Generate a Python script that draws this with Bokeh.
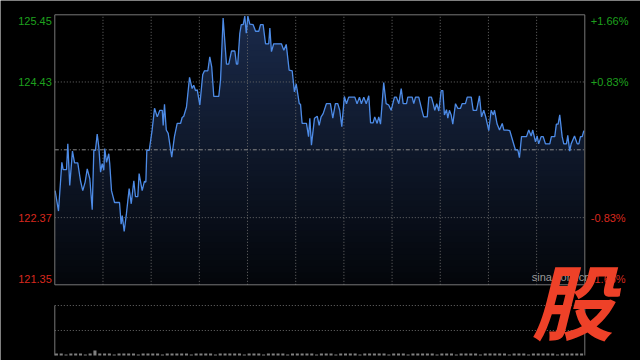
import numpy as np
from bokeh.plotting import figure
from bokeh.models import Range1d, Label
from bokeh.embed import file_html
from bokeh.resources import INLINE

# ---------------- data ----------------
prev_close = 123.40
price_top, price_bottom = 125.45, 121.35
left_ticks = [125.45, 124.43, 122.37, 121.35]
left_labels = ["125.45", "124.43", "122.37", "121.35"]
right_labels = ["+1.66%", "+0.83%", "-0.83%", "-1.66%"]
grid_minutes = [30, 60, 90, 120, 150, 180, 210, 240, 270, 300]
session_minutes = 330

minutes = [
    0.2, 2.3, 4.4, 5.2, 7.3, 8.1, 9.3, 11.0, 12.3, 14.3,
    16.0, 17.4, 18.9, 20.2, 21.8, 23.3, 24.3, 25.3, 26.4, 27.4,
    28.5, 29.5, 30.5, 31.1, 32.2, 33.6, 34.2, 35.3, 37.2, 40.3,
    41.3, 42.0, 43.2, 44.6, 46.3, 47.6, 49.2, 50.2, 51.7, 52.5,
    54.4, 55.8, 56.7, 57.3, 58.8, 60.6, 62.1, 63.8, 65.4, 66.9,
    67.5, 68.3, 69.4, 70.6, 72.8, 74.5, 76.2, 78.3, 79.3, 80.3,
    82.0, 83.9, 85.5, 86.5, 87.6, 88.7, 90.3, 92.1, 93.2, 95.3,
    96.5, 97.7, 99.0, 102.1, 103.2, 104.8, 106.9, 108.3, 110.0, 112.1,
    113.1, 113.9, 115.2, 116.1, 117.3, 118.3, 119.2, 120.2, 121.4, 123.5,
    125.0, 127.0, 128.1, 129.7, 131.2, 133.2, 133.9, 134.9, 136.3, 141.1,
    142.6, 144.1, 145.9, 147.8, 149.2, 150.3, 150.9, 152.2, 153.0, 154.0,
    156.7, 158.0, 158.8, 159.8, 161.7, 163.4, 164.6, 165.8, 167.1, 169.1,
    171.6, 173.1, 174.7, 176.2, 177.4, 178.7, 180.3, 181.6, 183.0, 186.8,
    188.2, 189.7, 190.9, 192.4, 193.9, 195.5, 196.6, 198.2, 199.2, 200.7,
    201.7, 202.8, 204.8, 206.3, 207.9, 209.4, 211.5, 212.7, 214.2, 215.7,
    216.9, 219.0, 219.8, 222.5, 223.5, 224.6, 226.6, 228.8, 229.7, 231.9,
    232.9, 234.5, 235.6, 236.6, 237.8, 239.1, 240.6, 241.6, 242.6, 243.9,
    244.7, 245.7, 246.8, 247.8, 249.5, 250.9, 252.6, 253.6, 255.7, 256.8,
    259.3, 260.5, 262.6, 264.4, 265.7, 267.1, 268.3, 270.2, 271.7, 273.0,
    273.8, 275.4, 276.9, 278.6, 279.6, 281.7, 283.3, 285.8, 286.8, 288.3,
    289.3, 290.6, 293.7, 295.1, 296.6, 297.6, 299.3, 300.3, 301.3, 302.8,
    304.1, 305.5, 308.2, 309.2, 311.3, 312.3, 313.4, 314.4, 315.9, 316.9,
    318.6, 319.4, 320.6, 321.5, 323.6, 325.3, 326.3, 327.3, 328.4, 329.4,
]

prices = [
    122.78, 122.47, 123.21, 123.10, 123.10, 123.49, 122.86, 123.38, 123.20, 123.20,
    122.93, 122.78, 122.91, 123.11, 122.96, 122.49, 123.39, 123.39, 123.64, 123.44,
    123.06, 123.19, 123.09, 123.42, 123.21, 123.34, 123.19, 122.78, 122.60, 122.60,
    122.27, 122.40, 122.16, 122.43, 122.81, 122.58, 122.93, 122.69, 122.69, 123.04,
    122.78, 122.92, 122.91, 123.39, 123.39, 123.70, 124.03, 123.90, 124.00, 124.00,
    123.77, 124.09, 123.70, 123.65, 123.29, 123.60, 123.80, 123.80, 123.89, 123.91,
    124.05, 124.50, 124.33, 124.38, 124.30, 124.31, 124.08, 124.54, 124.60, 124.60,
    124.81, 124.66, 124.21, 124.21, 124.46, 125.40, 124.70, 124.70, 124.90, 124.90,
    124.70, 124.70, 125.17, 125.30, 125.30, 125.43, 125.17, 125.43, 125.31, 125.30,
    125.20, 125.20, 125.30, 125.30, 125.01, 125.01, 125.25, 124.89, 125.01, 125.01,
    124.91, 125.00, 124.61, 124.60, 124.28, 124.40, 124.31, 124.10, 124.09, 123.80,
    123.80, 123.60, 123.88, 123.47, 123.88, 123.91, 123.77, 123.90, 123.95, 124.10,
    124.10, 123.88, 124.10, 124.10, 124.00, 123.75, 124.21, 124.10, 124.20, 124.20,
    124.10, 124.20, 124.10, 124.20, 124.10, 124.22, 123.81, 123.81, 123.90, 123.80,
    123.90, 123.79, 124.42, 124.10, 124.08, 124.00, 124.20, 124.20, 124.10, 124.33,
    124.10, 124.10, 124.20, 124.20, 124.10, 124.20, 124.20, 123.98, 123.90, 123.90,
    124.20, 124.20, 124.10, 124.00, 124.10, 123.99, 124.30, 124.30, 123.93, 124.01,
    123.88, 124.00, 123.93, 123.79, 124.10, 124.03, 124.03, 124.10, 124.10, 124.20,
    124.20, 124.00, 124.00, 124.22, 123.90, 124.00, 123.90, 123.69, 124.00, 123.93,
    124.00, 123.79, 123.70, 123.80, 123.70, 123.70, 123.69, 123.48, 123.40, 123.40,
    123.28, 123.60, 123.60, 123.70, 123.61, 123.70, 123.52, 123.61, 123.49, 123.60,
    123.60, 123.49, 123.49, 123.60, 123.60, 123.79, 123.79, 123.93, 123.60, 123.49,
    123.49, 123.62, 123.38, 123.49, 123.61, 123.49, 123.49, 123.60, 123.60, 123.69,
]

vol_minutes = list(range(1, 330, 3))
volumes = [
    2, 2, 1, 2, 2, 2, 1, 2, 5, 2, 2, 2, 1, 2, 2, 2, 2, 1, 2, 2,
    2, 2, 1, 2, 2, 2, 2, 2, 1, 2, 2, 2, 2, 1, 2, 2, 2, 2, 2, 1,
    2, 2, 2, 1, 2, 2, 2, 2, 1, 2, 2, 2, 2, 2, 1, 2, 2, 2, 1, 2,
    2, 2, 2, 1, 2, 2, 2, 2, 2, 1, 2, 2, 2, 1, 2, 2, 2, 2, 2, 1,
    2, 2, 2, 1, 2, 2, 2, 2, 1, 2, 2, 2, 2, 2, 1, 2, 2, 2, 1, 2,
    2, 2, 2, 2, 1, 2, 2, 2, 2, 2,
]
vol_panel_top = 50

# ---------------- figure ----------------
W, H = 640, 360
p = figure(width=W, height=H, output_backend="svg", toolbar_location=None,
           x_axis_location=None, y_axis_location=None,
           background_fill_color="#000000", border_fill_color="#000000", min_border=0)
p.outline_line_color = None
p.grid.visible = False

# frame covers the whole canvas; the price panel spans x 54.3..584.3, y 14.3..284.3
px_per_min = 530.0 / session_minutes
p.x_range = Range1d(-54.3 / px_per_min, session_minutes + (W - 584.3) / px_per_min)
px_per_unit = 270.0 / (price_top - price_bottom)
p.y_range = Range1d(price_bottom - (H - 284.3) / px_per_unit, price_top + 14.3 / px_per_unit)
p.extra_y_ranges = {"vol": Range1d(-5, 355)}

t = np.array(minutes)
pr = np.array(prices)

# gradient area under the price line (stacked bands)
nb = 45
levels = np.linspace(price_bottom, price_top, nb + 1)[1:]
c_top = np.array([26, 42, 74])
c_bot = np.array([4, 6, 10])
for lv in levels[::-1]:
    f = (lv - price_bottom) / (price_top - price_bottom)
    c = (c_bot + (c_top - c_bot) * f).astype(int)
    col = "#%02x%02x%02x" % tuple(c)
    p.varea(x=t, y1=np.full_like(pr, price_bottom), y2=np.minimum(pr, lv), fill_color=col)

grid_col = "#6a6a6a"
p.segment(x0=grid_minutes, y0=[price_bottom] * len(grid_minutes),
          x1=grid_minutes, y1=[price_top] * len(grid_minutes),
          line_color=grid_col, line_width=1, line_dash="1 2")
p.segment(x0=[0, 0], y0=[left_ticks[1], left_ticks[2]], x1=[session_minutes] * 2,
          y1=[left_ticks[1], left_ticks[2]], line_color=grid_col, line_width=1, line_dash="1 2")
p.segment(x0=[0], y0=[prev_close], x1=[session_minutes], y1=[prev_close],
          line_color="#8a8a8a", line_width=1, line_dash="4 2 1 2")

# price line
p.line(t, pr, line_color="#4d8be6", line_width=1.3)

# price panel border
bcol = "#777777"
p.segment(x0=[0, session_minutes, 0, 0], y0=[price_bottom, price_bottom, price_top, price_bottom],
          x1=[0, session_minutes, session_minutes, session_minutes],
          y1=[price_top, price_top, price_top, price_bottom], line_color=bcol, line_width=1)

# volume panel
p.vbar(x=vol_minutes, top=volumes, bottom=0, width=1.9, fill_color="#808080",
       line_color=None, y_range_name="vol")
p.segment(x0=[0, 0], y0=[vol_panel_top, vol_panel_top / 2], x1=[session_minutes] * 2,
          y1=[vol_panel_top, vol_panel_top / 2], line_color=grid_col, line_width=1,
          line_dash="1 2", y_range_name="vol")
p.segment(x0=[0, session_minutes], y0=[0, 0], x1=[0, session_minutes],
          y1=[vol_panel_top, vol_panel_top], line_color=bcol, line_width=1, y_range_name="vol")

# axis labels (coloured)
green, red = "#1ea01e", "#d8281e"
offs = [-6, 0, 0, 6]
cols = [green, green, red, red]
for v, lt, rt, dy, c in zip(left_ticks, left_labels, right_labels, offs, cols):
    p.add_layout(Label(x=0, y=v, text=lt, x_offset=-3, y_offset=dy, text_align="right",
                       text_baseline="middle", text_color=c, text_font="Liberation Sans",
                       text_font_size="11px"))
    p.add_layout(Label(x=session_minutes, y=v, text=rt, x_offset=6, y_offset=dy, text_align="left",
                       text_baseline="middle", text_color=c, text_font="Liberation Sans",
                       text_font_size="11px"))

# watermark
p.add_layout(Label(x=297, y=price_bottom, text="sina.com.cn", y_offset=2, text_align="left",
                   text_baseline="bottom", text_color="#9a9a9a", text_font="Liberation Sans",
                   text_font_size="11px"))
p.add_layout(Label(x=session_minutes, y=vol_panel_top, y_range_name="vol", text="股",
                   x_offset=-12, y_offset=7, text_align="center", text_baseline="middle",
                   text_color="#ee4128", text_font="Noto Sans CJK SC",
                   text_font_style="bold italic", text_font_size="82px"))

open("out.html", "w").write(file_html(p, INLINE))
